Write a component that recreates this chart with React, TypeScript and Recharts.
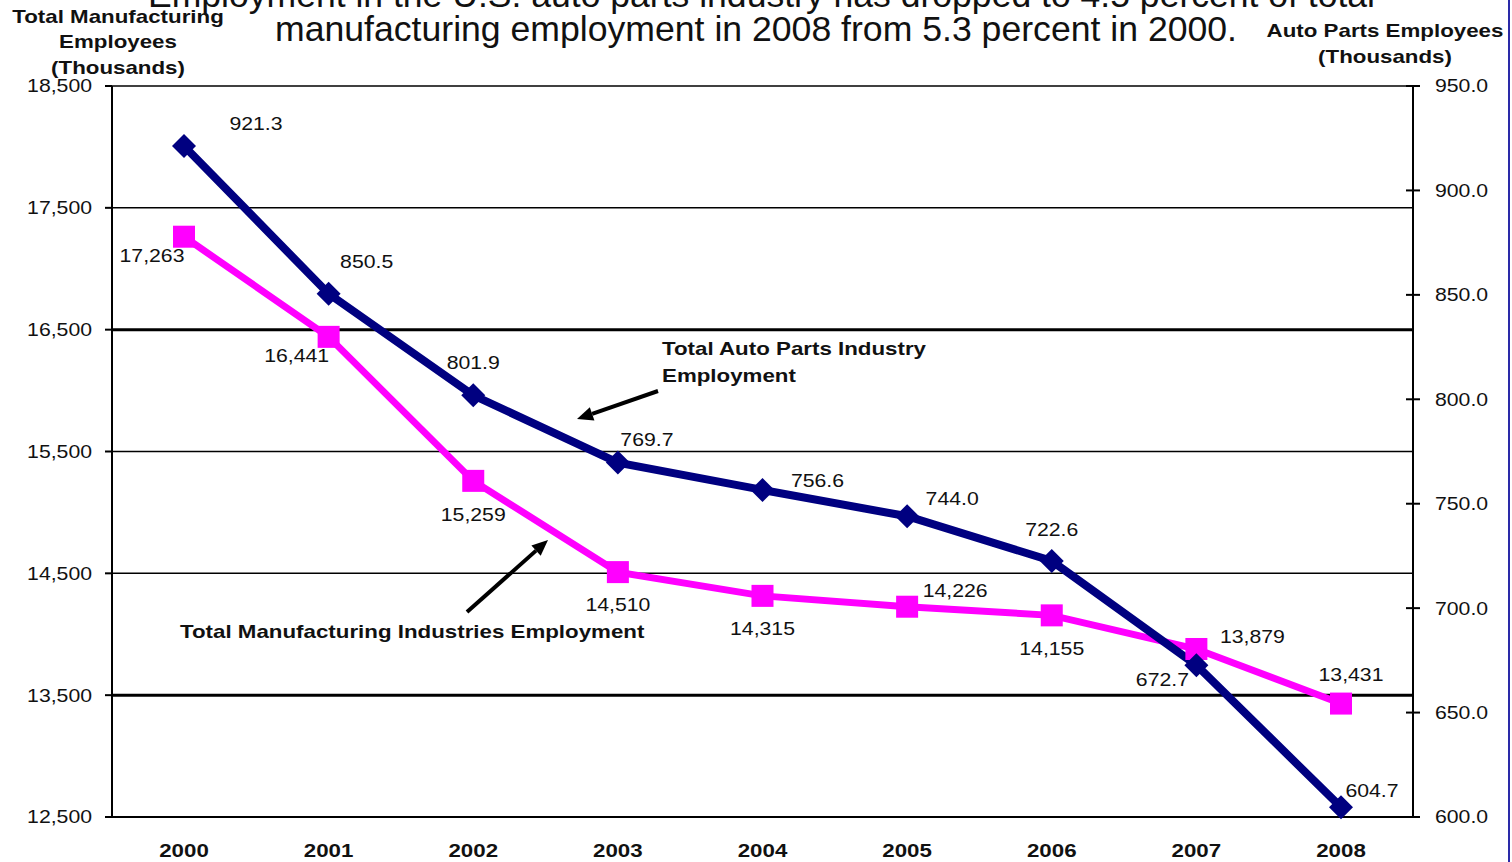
import React from "react";
import { LineChart, Line, XAxis, YAxis, CartesianGrid, ReferenceLine, LabelList } from "recharts";

const years = ["2000", "2001", "2002", "2003", "2004", "2005", "2006", "2007", "2008"];
const manufacturing = [17263, 16441, 15259, 14510, 14315, 14226, 14155, 13879, 13431];
const autoParts = [921.3, 850.5, 801.9, 769.7, 756.6, 744.0, 722.6, 672.7, 604.7];
const leftTicks = [12500, 13500, 14500, 15500, 16500, 17500, 18500];
const rightTicks = [600, 650, 700, 750, 800, 850, 900, 950];

// where each value label sits relative to its point (px)
const manuShift = [[-32, 19], [-32, 19], [0, 34], [0, 32], [0, 33], [48, -16], [0, 33], [56, -12], [10, -29]];
const autoShift = [[72, -22], [38, -32], [0, -33], [29, -23], [55, -9], [45, -18], [0, -31], [-34, 14], [31, -17]];

const data = years.map((year, i) => ({ year, manufacturing: manufacturing[i], autoParts: autoParts[i] }));

const FONT = "'Liberation Sans', Arial, sans-serif";
const NAVY = "#000080";
const MAGENTA = "#ff00ff";

const fmtManu = (v: number) => v.toLocaleString("en-US");
const fmtAuto = (v: number) => v.toFixed(1);

// the source text is a bit wider than Arial, so stretch it horizontally
function Txt({ x, y, anchor = "middle", size = 18, bold = false, children }: any) {
  const sx = bold ? 1.24 : 1.18;
  return (
    <text
      transform={`translate(${x},${y}) scale(${sx},1)`}
      textAnchor={anchor}
      dy="0.36em"
      fontSize={size}
      fontFamily={FONT}
      fontWeight={bold ? 700 : 400}
      fill="#111"
    >
      {children}
    </text>
  );
}

const LeftTick = ({ x, y, payload }: any) => (
  <Txt x={x} y={y} anchor="end">{fmtManu(payload.value)}</Txt>
);

const RightTick = ({ x, y, payload }: any) => (
  <g>
    <line x1={x - 29} x2={x - 15} y1={y} y2={y} stroke="#000" strokeWidth={2} />
    <Txt x={x} y={y} anchor="start">{fmtAuto(payload.value)}</Txt>
  </g>
);

const BottomTick = ({ x, y, payload }: any) => (
  <Txt x={x} y={y} bold>{payload.value}</Txt>
);

const diamond = (p: any) => {
  const { cx, cy, index } = p;
  if (cx == null || cy == null) return <g key={index} />;
  return (
    <polygon key={index} fill={NAVY}
      points={`${cx},${cy - 12} ${cx + 12},${cy} ${cx},${cy + 12} ${cx - 12},${cy}`} />
  );
};

const square = (p: any) => {
  const { cx, cy, index } = p;
  if (cx == null || cy == null) return <g key={index} />;
  return <rect key={index} x={cx - 11} y={cy - 11} width={22} height={22} fill={MAGENTA} />;
};

const makeLabel = (shift: number[][], fmt: (v: number) => string) => (props: any) => {
  const x = props.x ?? props.viewBox?.x;
  const y = props.y ?? props.viewBox?.y;
  const i = props.index ?? 0;
  const [dx, dy] = shift[i] || [0, 0];
  return <Txt x={x + dx} y={y + dy}>{fmt(Number(props.value))}</Txt>;
};

function Arrow({ x1, y1, x2, y2 }: any) {
  const a = Math.atan2(y2 - y1, x2 - x1);
  const L = 16, W = 7;
  const bx = x2 - L * Math.cos(a), by = y2 - L * Math.sin(a);
  const px = -Math.sin(a) * W, py = Math.cos(a) * W;
  return (
    <g>
      <line x1={x1} y1={y1} x2={bx} y2={by} stroke="#000" strokeWidth={4} />
      <polygon points={`${x2},${y2} ${bx + px},${by + py} ${bx - px},${by - py}`} fill="#000" />
    </g>
  );
}

export default function App() {
  return (
    <div style={{ position: "fixed", left: 0, top: 0, width: 1512, height: 862, background: "#fff", overflow: "hidden" }}>
      <LineChart width={1512} height={862} data={data} margin={{ top: 86, right: 39, bottom: 15, left: 52 }}>
        <CartesianGrid yAxisId="left" vertical={false} stroke="#000" strokeWidth={1.5} />
        <XAxis dataKey="year" height={30} padding={{ left: 72, right: 72 }} tickSize={0} tickMargin={34}
          axisLine={{ stroke: "#000", strokeWidth: 2 }} tick={<BottomTick />} interval={0} />
        <YAxis yAxisId="left" width={60} domain={[12500, 18500]} ticks={leftTicks} tickSize={7} tickMargin={13}
          axisLine={{ stroke: "#000", strokeWidth: 2 }} tickLine={{ stroke: "#000", strokeWidth: 2 }} tick={<LeftTick />} />
        <YAxis yAxisId="right" orientation="right" width={60} domain={[600, 950]} ticks={rightTicks}
          tickSize={0} tickMargin={22} tickLine={false}
          axisLine={{ stroke: "#000", strokeWidth: 2 }} tick={<RightTick />} />
        <ReferenceLine yAxisId="left" y={16500} stroke="#000" strokeWidth={3} />
        <ReferenceLine yAxisId="left" y={13500} stroke="#000" strokeWidth={3} />
        <Line yAxisId="left" dataKey="manufacturing" type="linear" stroke={MAGENTA} strokeWidth={7}
          dot={square} activeDot={false} isAnimationActive={false}>
          <LabelList dataKey="manufacturing" content={makeLabel(manuShift, fmtManu)} />
        </Line>
        <Line yAxisId="right" dataKey="autoParts" type="linear" stroke={NAVY} strokeWidth={8}
          dot={diamond} activeDot={false} isAnimationActive={false}>
          <LabelList dataKey="autoParts" content={makeLabel(autoShift, fmtAuto)} />
        </Line>
      </LineChart>

      <svg width={1512} height={862} style={{ position: "absolute", left: 0, top: 0, pointerEvents: "none" }}>
        <text x={148} y={7} fontSize={35} fontFamily={FONT} fill="#111" textLength={1227} lengthAdjust="spacingAndGlyphs">
          Employment in the U.S. auto parts industry has dropped to 4.5 percent of total
        </text>
        <text x={275} y={41} fontSize={35} fontFamily={FONT} fill="#111" textLength={962} lengthAdjust="spacingAndGlyphs">
          manufacturing employment in 2008 from 5.3 percent in 2000.
        </text>

        <Txt x={118} y={17} bold>Total Manufacturing</Txt>
        <Txt x={118} y={42} bold>Employees</Txt>
        <Txt x={118} y={68} bold>(Thousands)</Txt>
        <Txt x={1385} y={31} bold>Auto Parts Employees</Txt>
        <Txt x={1385} y={57} bold>(Thousands)</Txt>

        <Txt x={662} y={349} anchor="start" bold>Total Auto Parts Industry</Txt>
        <Txt x={662} y={376} anchor="start" bold>Employment</Txt>
        <Arrow x1={658} y1={391} x2={577} y2={419} />

        <Txt x={180} y={632} anchor="start" bold>Total Manufacturing Industries Employment</Txt>
        <Arrow x1={467} y1={612} x2={548} y2={540} />

        <line x1={1509} x2={1509} y1={0} y2={862} stroke="#2a2aa8" strokeWidth={2} />
      </svg>
    </div>
  );
}
